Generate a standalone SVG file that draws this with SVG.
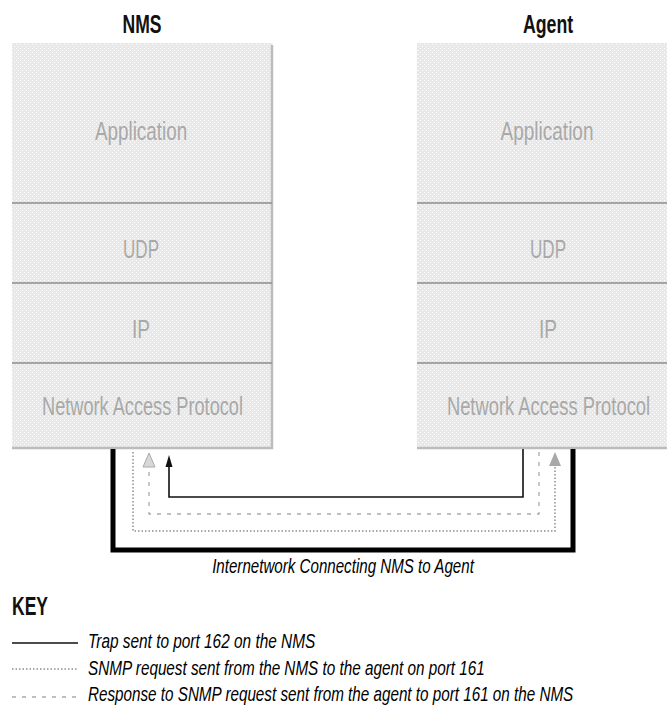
<svg xmlns="http://www.w3.org/2000/svg" width="667" height="709" viewBox="0 0 667 709">
<style>
text{font-family:"Liberation Sans",Arial,sans-serif}
.title{font-size:25px;font-weight:bold;fill:#111;text-anchor:middle}
.layer{font-size:26px;fill:#a9a9a9;text-anchor:middle}
.ital{font-size:21px;font-style:italic;fill:#000}
.box{fill:url(#stip)}
.shadow{fill:none;stroke:#bcbcbc;stroke-width:2.5}
.div{stroke:#8c8c8c;stroke-width:1.6}
.trap{fill:none;stroke:#111;stroke-width:1.6}
.req{fill:none;stroke:#8e8e8e;stroke-width:1.5;stroke-dasharray:1.5 2}
.resp{fill:none;stroke:#aaaaaa;stroke-width:1.3;stroke-dasharray:4 6}
.thick{fill:none;stroke:#000;stroke-width:5;stroke-linejoin:miter}
</style>
<defs>
<pattern id="stip" width="4" height="4" patternUnits="userSpaceOnUse">
<rect width="4" height="4" fill="#e8e8e8"/>
<rect x="0" y="0" width="1" height="1" fill="#fff"/>
<rect x="2" y="2" width="1" height="1" fill="#fff"/>
</pattern>
</defs>
<rect width="667" height="709" fill="#fff"/>

<g id="nms">
<text class="title" transform="translate(142 33) scale(0.75 1)" textLength="52" lengthAdjust="spacingAndGlyphs">NMS</text>
<rect class="box" x="12" y="43" width="261" height="406"/>
<path class="shadow" d="M272,45 V448 H12"/>
<line class="div" x1="12" y1="203" x2="272" y2="203"/>
<line class="div" x1="12" y1="283" x2="272" y2="283"/>
<line class="div" x1="12" y1="363" x2="272" y2="363"/>
<g id="nms-app"><text class="layer" transform="translate(141 140) scale(0.75 1)" textLength="123" lengthAdjust="spacingAndGlyphs">Application</text></g>
<g id="nms-udp"><text class="layer" transform="translate(141 258) scale(0.75 1)" textLength="48" lengthAdjust="spacingAndGlyphs">UDP</text></g>
<g id="nms-ip"><text class="layer" transform="translate(141 338) scale(0.75 1)" textLength="24" lengthAdjust="spacingAndGlyphs">IP</text></g>
<g id="nms-nap"><text class="layer" transform="translate(142.5 415) scale(0.75 1)" textLength="268" lengthAdjust="spacingAndGlyphs">Network Access Protocol</text></g>
</g>

<g id="agent">
<text class="title" transform="translate(548 33) scale(0.75 1)" textLength="67" lengthAdjust="spacingAndGlyphs">Agent</text>
<rect class="box" x="417" y="43" width="250" height="406"/>
<path class="shadow" d="M667,448 H417"/>
<line class="div" x1="417" y1="203" x2="667" y2="203"/>
<line class="div" x1="417" y1="283" x2="667" y2="283"/>
<line class="div" x1="417" y1="363" x2="667" y2="363"/>
<g id="agent-app"><text class="layer" transform="translate(547 140) scale(0.75 1)" textLength="124" lengthAdjust="spacingAndGlyphs">Application</text></g>
<g id="agent-udp"><text class="layer" transform="translate(548 258) scale(0.75 1)" textLength="48" lengthAdjust="spacingAndGlyphs">UDP</text></g>
<g id="agent-ip"><text class="layer" transform="translate(548 338) scale(0.75 1)" textLength="24" lengthAdjust="spacingAndGlyphs">IP</text></g>
<g id="agent-nap"><text class="layer" transform="translate(548.5 415) scale(0.75 1)" textLength="271" lengthAdjust="spacingAndGlyphs">Network Access Protocol</text></g>
</g>

<g id="connectors">
<path class="thick" d="M113,449 V550 H573 V449"/>
<path class="trap" d="M523,449 V497 H169 V465"/>
<polygon points="169,455 165.5,467 172.5,467" fill="#111"/>
<path class="resp" d="M539,452 V514 H149 V467"/>
<polygon points="149,453 143,467 155,467" fill="#d8d8d8" stroke="#aaaaaa" stroke-width="1"/>
<path class="req" d="M133,452 V531 H555 V466"/>
<polygon points="555,452 549,466 561,466" fill="#a8a8a8"/>
</g>

<g id="net-label">
<text class="ital" transform="translate(343 573) scale(0.75 1)" text-anchor="middle" textLength="349" lengthAdjust="spacingAndGlyphs">Internetwork Connecting NMS to Agent</text>
</g>

<g id="key">
<text transform="translate(12 615) scale(0.75 1)" font-size="26" font-weight="bold" fill="#111" textLength="48" lengthAdjust="spacingAndGlyphs">KEY</text>
<line class="trap" x1="12" y1="643" x2="78" y2="643"/>
<text class="ital" transform="translate(88 648) scale(0.75 1)" textLength="303" lengthAdjust="spacingAndGlyphs">Trap sent to port 162 on the NMS</text>
<line class="req" x1="12" y1="669" x2="78" y2="669"/>
<text class="ital" transform="translate(88 675) scale(0.75 1)" textLength="529" lengthAdjust="spacingAndGlyphs">SNMP request sent from the NMS to the agent on port 161</text>
<line class="resp" x1="12" y1="697" x2="78" y2="697"/>
<text class="ital" transform="translate(88 701) scale(0.75 1)" textLength="647" lengthAdjust="spacingAndGlyphs">Response to SNMP request sent from the agent to port 161 on the NMS</text>
</g>
</svg>
